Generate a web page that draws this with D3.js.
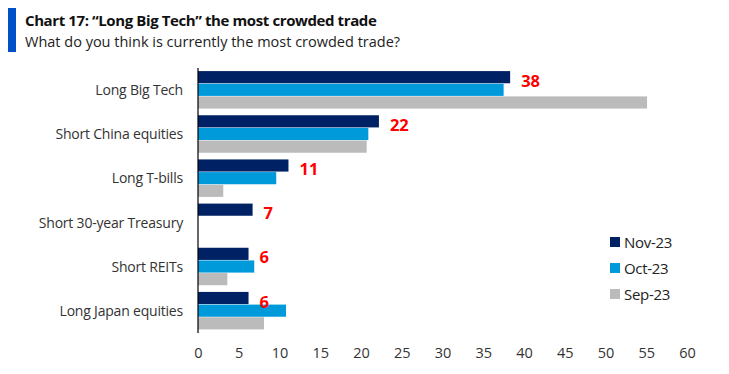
<!DOCTYPE html>
<html>
<head>
<meta charset="utf-8">
<script src="https://cdn.jsdelivr.net/npm/d3@7"></script>
<style>
  body { margin: 0; background: #fff; }
  svg { display: block; font-family: "Open Sans", "Noto Sans", sans-serif; }
</style>
</head>
<body>
<svg id="chart"></svg>
<script>
// data
const categories = ["Long Big Tech", "Short China equities", "Long T-bills",
  "Short 30-year Treasury", "Short REITs", "Long Japan equities"];
const seriesNames = ["Nov-23", "Oct-23", "Sep-23"];
const nov = [38.3, 22.2, 11.1, 6.7, 6.2, 6.2];
const oct = [37.5, 20.9, 9.6, null, 6.9, 10.8];
const sep = [55.1, 20.7, 3.1, null, 3.6, 8.1];
const novLabels = ["38", "22", "11", "7", "6", "6"];
const xTicks = [0, 5, 10, 15, 20, 25, 30, 35, 40, 45, 50, 55, 60];
const colors = ["#002163", "#009ADB", "#BBBBBB"];

const W = 729, H = 374;
const margin = {top: 68, right: 42, bottom: 41, left: 198};

const svg = d3.select("#chart").attr("width", W).attr("height", H);

// title block
svg.append("rect").attr("x", 8).attr("y", 8).attr("width", 8).attr("height", 44).attr("fill", "#0050C8");
svg.append("text").attr("x", 25).attr("y", 26)
  .attr("font-size", 15).attr("font-weight", "bold").attr("fill", "#111")
  .style("letter-spacing", "-0.4px")
  .text("Chart 17: \u201cLong Big Tech\u201d the most crowded trade");
svg.append("text").attr("x", 25).attr("y", 47)
  .attr("font-size", 14.5).attr("fill", "#222")
  .text("What do you think is currently the most crowded trade?");

const x = d3.scaleLinear().domain([0, 60]).range([margin.left, W - margin.right]);
const y = d3.scaleBand().domain(categories).range([margin.top, H - margin.bottom]).paddingInner(0.14).paddingOuter(0.07);
const y2 = d3.scaleBand().domain(seriesNames).range([0, y.bandwidth()]);

const rows = categories.map((c, i) => ({cat: c, vals: [nov[i], oct[i], sep[i]], label: novLabels[i]}));

const g = svg.selectAll("g.row").data(rows).join("g")
  .attr("transform", d => `translate(0,${y(d.cat)})`);

g.selectAll("rect")
  .data(d => d.vals.map((v, j) => ({v, s: seriesNames[j], j})).filter(e => e.v != null))
  .join("rect")
  .attr("x", x(0))
  .attr("y", e => y2(e.s))
  .attr("width", e => x(e.v) - x(0))
  .attr("height", y2.bandwidth() - 0.5)
  .attr("fill", e => colors[e.j]);

g.append("text")
  .attr("x", d => x(d.vals[0]) + 11)
  .attr("y", y2("Nov-23") + y2.bandwidth() + 3)
  .attr("font-size", 16.5).attr("font-weight", "bold").attr("fill", "#FF0000")
  .text(d => d.label);

// category labels
svg.append("g").selectAll("text").data(categories).join("text")
  .attr("x", 183)
  .attr("y", d => y(d) + y.bandwidth() / 2 + 5)
  .attr("text-anchor", "end")
  .attr("font-size", 14).attr("fill", "#333")
  .style("letter-spacing", "-0.2px")
  .text(d => d);

// y axis line
svg.append("line")
  .attr("x1", x(0)).attr("x2", x(0))
  .attr("y1", margin.top).attr("y2", H - margin.bottom)
  .attr("stroke", "#000").attr("stroke-width", 1.2);

// x axis labels (no line)
const xAxis = svg.append("g")
  .attr("transform", `translate(0,${H - margin.bottom})`)
  .call(d3.axisBottom(x).tickValues(xTicks).tickSize(0).tickPadding(15));
xAxis.select(".domain").remove();
xAxis.selectAll("text").attr("font-size", 14.5).attr("fill", "#333")
  .attr("font-family", "\"Open Sans\", \"Noto Sans\", sans-serif");

// legend
const leg = svg.append("g").selectAll("g").data(seriesNames).join("g")
  .attr("transform", (d, i) => `translate(610,${237 + i * 26})`);
leg.append("rect").attr("width", 10).attr("height", 10).attr("fill", (d, i) => colors[i]);
leg.append("text").attr("x", 14).attr("y", 10.5)
  .attr("font-size", 15).attr("fill", "#222")
  .style("letter-spacing", "-0.3px")
  .text(d => d);
</script>
</body>
</html>
